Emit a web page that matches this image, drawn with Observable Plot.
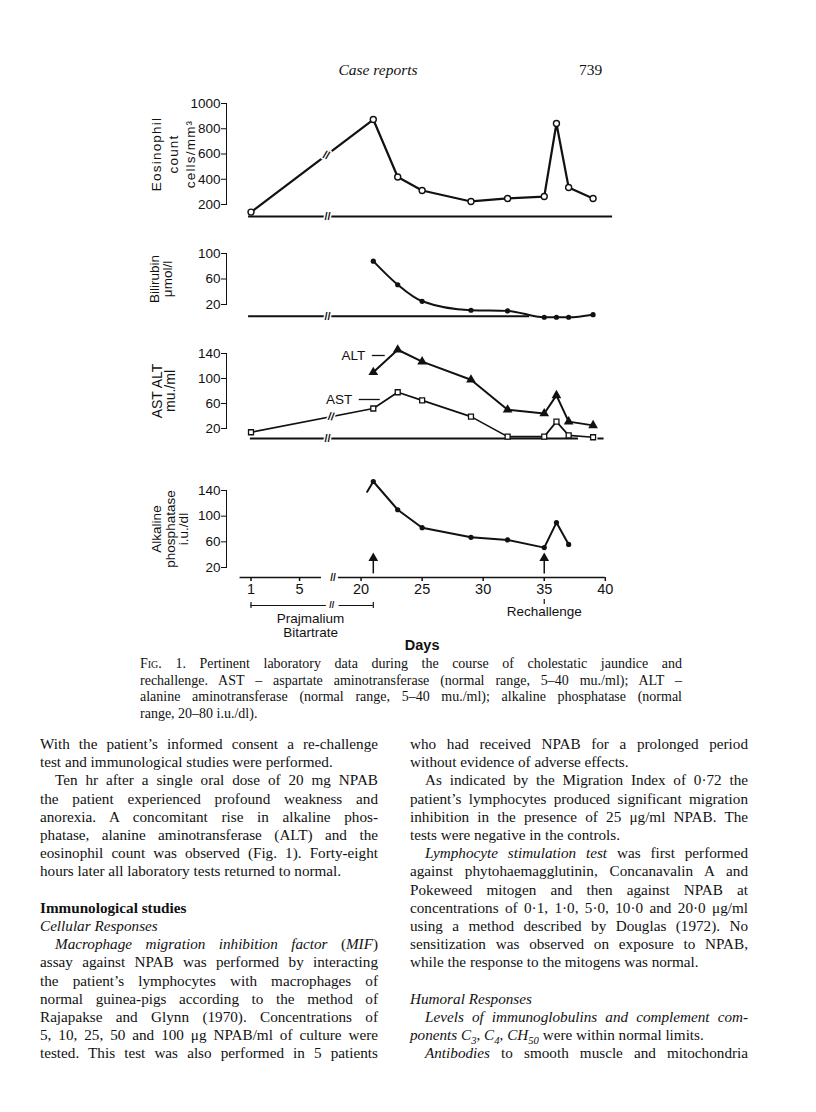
<!DOCTYPE html>
<html><head><meta charset="utf-8">
<script src="https://cdn.jsdelivr.net/npm/d3@7"></script>
<script src="https://cdn.jsdelivr.net/npm/@observablehq/plot@0.6"></script>
<style>
body{margin:0;background:#fff;}
#page{position:relative;width:816px;height:1112px;overflow:hidden;background:#fff;color:#111;}
.serif{font-family:"Liberation Serif","Times New Roman",serif;}
.ln{position:absolute;white-space:pre;}
svg{overflow:visible;}
</style></head>
<body><div id="page"></div>
<script>
// ---------- data ----------
const dayTicks = [1, 5, 20, 25, 30, 35, 40];

const eosDays   = [1, 21, 23, 25, 29, 32, 35, 36, 37, 39];
const eosValues = [140, 873, 418, 311, 224, 248, 263, 842, 335, 248];
const eosTicks  = [200, 400, 600, 800, 1000];

const biliDays   = [21, 23, 25, 29, 32, 35, 36, 37, 39];
const biliValues = [88, 51, 25, 11, 10, 0, 0, 0, 4];
const biliTicks  = [20, 60, 100];

const altDays   = [21, 23, 25, 29, 32, 35, 36, 37, 39];
const altValues = [110, 146, 127, 98, 50, 44, 73, 31, 25];
const astDays   = [1, 21, 23, 25, 29, 32, 35, 36, 37, 39];
const astValues = [14, 52, 78, 65, 39, 7, 7, 31, 9, 6];
const enzTicks  = [20, 60, 100, 140];

const alkDays   = [21, 23, 25, 29, 32, 35, 36, 37];
const alkValues = [154, 110, 82, 67, 63, 51, 90, 56];
const alkLeadDay = 20.5, alkLeadValue = 138;
const alkTicks  = [20, 60, 100, 140];

// normal-range baselines (day from, day to, value)
const eosBaseline  = [{from: 0.8, to: 40.6, value: 105}];
const biliBaseline = [{from: 0.8, to: 33.8, value: 1.5}];
const enzBaseline  = [{from: 0.95, to: 37.8, value: 4}, {from: 39.4, to: 39.9, value: 4}];
const breakDay = 7.3;
const eosLineBreak = [{day: 7.2, value: 590}];
const astLineBreak = [{day: 7.6, value: 39}];
const axisSegments = [{from: 0.1, to: 6.8}, {from: 18.15, to: 40}];
const axisBreakDay = 7.75;
const drugPeriod = [{from: 1, to: 7.2}, {from: 18.2, to: 21}];
const drugEnds = [1, 21];
const drugLabel = {day: 5.9, text: "Prajmalium\nBitartrate"};
const arrowDays = [21, 35];
const arrowFrom = 10, arrowTo = 33;
const rechallenge = {day: 35, text: "Rechallenge"};
const daysLabel = {day: 25, text: "Days"};
const altLabel = {day: 20.34, value: 136.8, text: "ALT", lead: [20.92, 21.98]};
const astLabel = {day: 19.28, value: 66.4, text: "AST", lead: [19.85, 21.57]};

const zip = (xs, ys) => xs.map((d, i) => ({day: d, value: ys[i]}));
const eos = zip(eosDays, eosValues), bili = zip(biliDays, biliValues);
const alt = zip(altDays, altValues), ast = zip(astDays, astValues);
const alk = zip(alkDays, alkValues);
const alkLine = [{day: alkLeadDay, value: alkLeadValue}, ...alk];

// ---------- chart ----------
const page = document.getElementById("page");
const INK = "#111";
const SANS = "'Liberation Sans', Arial, Helvetica, sans-serif";
const X = {type: "linear", domain: [1, 7.75, 17.7, 41], range: [250.5, 332.5, 332.5, 617], axis: null};

const breakMark = (data, x, y, extra = {}) => Plot.text(data, {x, y, text: () => "//", fontSize: 11, fontWeight: "bold",
  fill: INK, stroke: "white", strokeWidth: 3, paintOrder: "stroke", ...extra});
const title = (txt, dx, fs = 13.5, lh = 1.1) => Plot.text([txt], {frameAnchor: "left", textAnchor: "middle", lineAnchor: "middle",
  rotate: -90, dx, fontSize: fs, lineHeight: lh, fill: INK});

function panel(top, height, mt, mb, yDomain, yTicks, marks, spacing) {
  const svg = Plot.plot({
    width: 816, height, marginLeft: 226, marginRight: 0, marginTop: mt, marginBottom: mb,
    x: X,
    y: {type: "linear", domain: yDomain, ticks: yTicks, tickSize: 5, tickPadding: 1, line: true, label: null, tickFormat: d => String(d)},
    style: {fontFamily: SANS, fontSize: "13.5px", color: INK, background: "transparent", overflow: "visible"},
    marks
  });
  svg.style.position = "absolute"; svg.style.left = "0px"; svg.style.top = top + "px";
  if (spacing) svg.querySelectorAll("text").forEach(t => { if (/Eosinophil/.test(t.textContent)) t.style.letterSpacing = spacing; });
  page.appendChild(svg);
}

// Eosinophil
panel(88, 138, 15, 22, [200, 1000], eosTicks, [
  Plot.ruleY(eosBaseline, {x1: "from", x2: "to", y: "value", stroke: INK, strokeWidth: 2}),
  breakMark(eosBaseline, () => breakDay, "value"),
  Plot.line(eos, {x: "day", y: "value", stroke: INK, strokeWidth: 2.2}),
  breakMark(eosLineBreak, "day", "value", {rotate: 20}),
  Plot.dot(eos, {x: "day", y: "value", r: 3, fill: "white", stroke: INK, strokeWidth: 1.4}),
  title("Eosinophil\ncount\ncells/mm³", -54, 13.5, 1.25)
], "1.2px");

// Bilirubin
panel(238, 84, 15, 18, [20, 100], biliTicks, [
  Plot.ruleY(biliBaseline, {x1: "from", x2: "to", y: "value", stroke: INK, strokeWidth: 2}),
  breakMark(biliBaseline, () => breakDay, "value"),
  Plot.line(bili, {x: "day", y: "value", curve: "monotone-x", stroke: INK, strokeWidth: 2}),
  Plot.dot(bili, {x: "day", y: "value", r: 2.6, fill: INK}),
  title("Bilirubin\nμmol/l", -65, 13.5, 0.95)
]);

// AST / ALT
panel(336, 108, 17, 16, [20, 140], enzTicks, [
  Plot.ruleY(enzBaseline, {x1: "from", x2: "to", y: "value", stroke: INK, strokeWidth: 2}),
  breakMark(enzBaseline.slice(0, 1), () => breakDay, "value"),
  Plot.line(ast, {x: "day", y: "value", stroke: INK, strokeWidth: 1.7}),
  breakMark(astLineBreak, "day", "value", {rotate: 10}),
  Plot.dot(ast, {x: "day", y: "value", symbol: "square", r: 2.8, fill: "white", stroke: INK, strokeWidth: 1.3}),
  Plot.line(alt, {x: "day", y: "value", stroke: INK, strokeWidth: 2}),
  Plot.dot(alt, {x: "day", y: "value", symbol: "triangle", r: 3.6, fill: INK}),
  Plot.text([altLabel, astLabel], {x: "day", y: "value", text: "text", textAnchor: "end", fontSize: 13.5, fill: INK}),
  Plot.ruleY([altLabel, astLabel], {x1: d => d.lead[0], x2: d => d.lead[1], y: "value", stroke: INK, strokeWidth: 1.3}),
  title("AST ALT\nmu./ml", -62, 14, 0.95)
]);

// Alkaline phosphatase + day axis
panel(472, 190, 18, 95, [20, 140], alkTicks, [
  Plot.line(alkLine, {x: "day", y: "value", stroke: INK, strokeWidth: 2}),
  Plot.dot(alk, {x: "day", y: "value", r: 2.6, fill: INK}),
  Plot.ruleX(arrowDays, {x: d => d, y1: arrowFrom, y2: arrowTo, stroke: INK, strokeWidth: 1.5}),
  Plot.dot(arrowDays, {x: d => d, y: arrowTo, symbol: "triangle", r: 3.6, fill: INK, dy: -1}),
  Plot.ruleY(axisSegments, {x1: "from", x2: "to", y: () => alkTicks[0], dy: 10, stroke: INK, strokeWidth: 1.6}),
  Plot.text([axisBreakDay], {x: d => d, y: () => alkTicks[0], dy: 10, text: () => "//", fontSize: 10, fontWeight: "bold", fill: INK}),
  Plot.axisX({ticks: dayTicks, anchor: "bottom", tickSize: 4, tickPadding: 2, dy: 10, fontSize: 14.5, stroke: INK, fill: INK, strokeWidth: 1.5, label: null, tickFormat: d => String(d)}),
  Plot.ruleY(drugPeriod, {x1: "from", x2: "to", y: () => alkTicks[0], dy: 38, stroke: INK, strokeWidth: 1.2}),
  Plot.ruleX(drugEnds, {x: d => d, y1: () => alkTicks[0], y2: () => alkTicks[0], insetTop: -3, insetBottom: -3, dy: 38, stroke: INK, strokeWidth: 1.2}),
  Plot.text([drugPeriod[0].to + 0.45], {x: d => d, y: () => alkTicks[0], dy: 38, text: () => "//", fontSize: 9, fontWeight: "bold", fill: INK}),
  Plot.text([drugLabel], {x: "day", y: () => alkTicks[0], dy: 58, text: "text", fontSize: 13.5, lineHeight: 1.05, fill: INK}),
  Plot.ruleX([rechallenge.day], {x: d => d, y1: () => alkTicks[0], y2: () => alkTicks[0], insetBottom: -5, dy: 32, stroke: INK, strokeWidth: 1.2}),
  Plot.text([rechallenge], {x: "day", y: () => alkTicks[0], dy: 44, text: "text", fontSize: 13.5, fill: INK}),
  Plot.text([daysLabel], {x: "day", y: () => alkTicks[0], dy: 78, text: "text", fontSize: 14.5, fill: INK, fontWeight: "bold"}),
  title("Alkaline\nphosphatase\ni.u./dl", -56, 13.5, 1.0)
]);

// ---------- text ----------
function addText(html, left, top, css) {
  const d = document.createElement("div");
  d.className = "ln serif"; d.innerHTML = html;
  d.style.left = left + "px"; d.style.top = top + "px";
  Object.assign(d.style, css || {});
  page.appendChild(d);
  return d;
}
addText("<i>Case reports</i>", 0, 61, {width: "756px", textAlign: "center", fontSize: "15.5px"});
addText("739", 579, 61, {fontSize: "15.5px"});

const captionLines = [
  "<span style='font-variant:small-caps'>Fig.</span> 1. Pertinent laboratory data during the course of cholestatic jaundice and",
  "rechallenge. AST – aspartate aminotransferase (normal range, 5–40 mu./ml); ALT –",
  "alanine aminotransferase (normal range, 5–40 mu./ml); alkaline phosphatase (normal",
  "range, 20–80 i.u./dl)."
];
const leftLines = [
  ["With the patient’s informed consent a re-challenge", 0, 0],
  ["test and immunological studies were performed.", 0, 1],
  ["Ten hr after a single oral dose of 20 mg NPAB", 1, 0],
  ["the patient experienced profound weakness and", 0, 0],
  ["anorexia. A concomitant rise in alkaline phos-", 0, 0],
  ["phatase, alanine aminotransferase (ALT) and the", 0, 0],
  ["eosinophil count was observed (Fig. 1). Forty-eight", 0, 0],
  ["hours later all laboratory tests returned to normal.", 0, 1],
  null,
  ["<b>Immunological studies</b>", 0, 1],
  ["<i>Cellular Responses</i>", 0, 1],
  ["<i>Macrophage migration inhibition factor</i> (<i>MIF</i>)", 1, 0],
  ["assay against NPAB was performed by interacting", 0, 0],
  ["the patient’s lymphocytes with macrophages of", 0, 0],
  ["normal guinea-pigs according to the method of", 0, 0],
  ["Rajapakse and Glynn (1970). Concentrations of", 0, 0],
  ["5, 10, 25, 50 and 100 μg NPAB/ml of culture were", 0, 0],
  ["tested. This test was also performed in 5 patients", 0, 0]
];
const rightLines = [
  ["who had received NPAB for a prolonged period", 0, 0],
  ["without evidence of adverse effects.", 0, 1],
  ["As indicated by the Migration Index of 0·72 the", 1, 0],
  ["patient’s lymphocytes produced significant migration", 0, 0],
  ["inhibition in the presence of 25 μg/ml NPAB. The", 0, 0],
  ["tests were negative in the controls.", 0, 1],
  ["<i>Lymphocyte stimulation test</i> was first performed", 1, 0],
  ["against phytohaemagglutinin, Concanavalin A and", 0, 0],
  ["Pokeweed mitogen and then against NPAB at", 0, 0],
  ["concentrations of 0·1, 1·0, 5·0, 10·0 and 20·0 μg/ml", 0, 0],
  ["using a method described by Douglas (1972). No", 0, 0],
  ["sensitization was observed on exposure to NPAB,", 0, 0],
  ["while the response to the mitogens was normal.", 0, 1],
  null,
  ["<i>Humoral Responses</i>", 0, 1],
  ["<i>Levels of immunoglobulins and complement com-</i>", 1, 0],
  ["<i>ponents C<sub style='font-size:70%'>3</sub>, C<sub style='font-size:70%'>4</sub>, CH<sub style='font-size:70%'>50</sub></i> were within normal limits.", 0, 1],
  ["<i>Antibodies</i> to smooth muscle and mitochondria", 1, 0]
];

function block(lines, left, width, top0, step, fontSize, indent) {
  lines.forEach((ln, i) => {
    if (!ln) return;
    const [html, ind, last] = ln;
    const x = left + (ind ? indent : 0);
    const d = addText(html, x, top0 + i * step, {fontSize: fontSize + "px", lineHeight: step + "px"});
    if (!last) {
      const w = width - (ind ? indent : 0);
      const nat = d.getBoundingClientRect().width;
      const n = (d.textContent.match(/ /g) || []).length;
      if (n) d.style.wordSpacing = ((w - nat) / n) + "px";
    }
  });
}
block(captionLines.map((h, i) => [h, 0, i === 3 ? 1 : 0]), 140, 542, 656, 16.7, 14, 0);
block(leftLines, 40, 338, 735, 18.2, 15.2, 15);
block(rightLines, 410, 338, 735, 18.2, 15.2, 15);
</script>
</body></html>
